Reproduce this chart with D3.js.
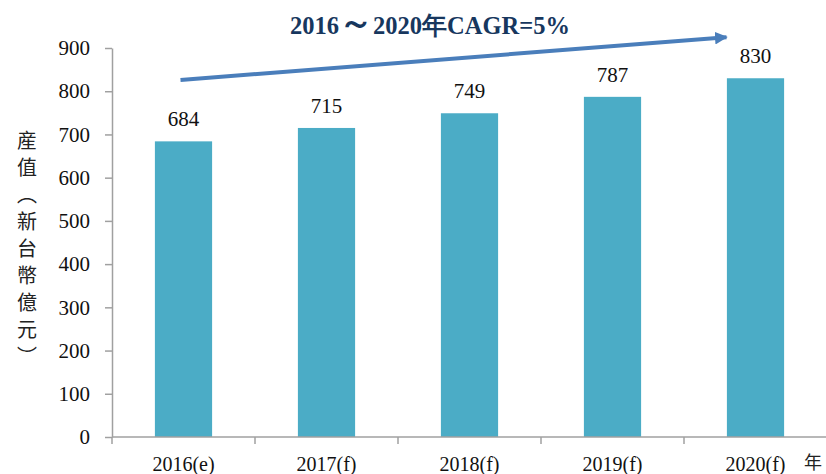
<!DOCTYPE html>
<html>
<head>
<meta charset="utf-8">
<script src="https://cdn.jsdelivr.net/npm/d3@7"></script>
<style>
  body { margin: 0; background: #fff; }
  svg { display: block; }
</style>
</head>
<body>
<div id="chart"></div>
<script>
// data
const years = ["2016(e)", "2017(f)", "2018(f)", "2019(f)", "2020(f)"];
const values = [684, 715, 749, 787, 830];
const yTicks = [0, 100, 200, 300, 400, 500, 600, 700, 800, 900];
const titleParts = ["2016", "～", "2020年CAGR=5%"];
const yTitle = "産值（新台幣億元）";
const xUnit = "年";

const W = 826, H = 474;
const margin = { top: 48, right: -1, bottom: 37, left: 112 };

const svg = d3.select("#chart")
    .append("svg")
    .attr("width", W)
    .attr("height", H);

// scales
const x = d3.scaleBand()
    .domain(years)
    .range([margin.left, W - margin.right])
    .paddingInner(0.6)
    .paddingOuter(0.3);

const y = d3.scaleLinear()
    .domain([0, 900])
    .range([H - margin.bottom, margin.top]);

const serif = "'Liberation Serif', 'Times New Roman', serif";
const axisColor = "#a0a0a0";

// bars
svg.append("g")
    .selectAll("rect")
    .data(values)
    .join("rect")
    .attr("x", (d, i) => x(years[i]))
    .attr("y", d => y(d))
    .attr("width", x.bandwidth())
    .attr("height", d => y(0) - y(d))
    .attr("fill", "#4bacc6");

// value labels
svg.append("g")
    .selectAll("text")
    .data(values)
    .join("text")
    .attr("x", (d, i) => x(years[i]) + x.bandwidth() / 2)
    .attr("y", d => y(d) - 15)
    .attr("text-anchor", "middle")
    .style("font-family", serif)
    .style("font-size", "21px")
    .style("fill", "#111")
    .text(d => d);

// Y axis
const yAxis = svg.append("g")
    .attr("transform", `translate(${margin.left},0)`)
    .call(d3.axisLeft(y).tickValues(yTicks).tickSize(7).tickPadding(15).tickSizeOuter(0));

yAxis.select(".domain").attr("stroke", axisColor).attr("stroke-width", 1.5);
yAxis.selectAll(".tick line").attr("stroke", axisColor).attr("stroke-width", 1.5);
yAxis.selectAll(".tick text")
    .style("font-family", serif)
    .style("font-size", "21px")
    .style("fill", "#111");

// X axis: ticks on band boundaries
const step = x.step();
const x0 = margin.left;
const boundaries = d3.range(years.length + 1).map(i => x0 + i * step);
const xAxis = svg.append("g")
    .attr("transform", `translate(0,${y(0)})`);
xAxis.append("line")
    .attr("x1", x0).attr("x2", W)
    .attr("stroke", axisColor).attr("stroke-width", 1.5);
xAxis.selectAll(".tk")
    .data(boundaries)
    .join("line")
    .attr("class", "tk")
    .attr("x1", d => d).attr("x2", d => d)
    .attr("y1", 0).attr("y2", 7)
    .attr("stroke", axisColor).attr("stroke-width", 1.5);
xAxis.selectAll(".lbl")
    .data(years)
    .join("text")
    .attr("class", "lbl")
    .attr("x", d => x(d) + x.bandwidth() / 2)
    .attr("y", 34)
    .attr("text-anchor", "middle")
    .style("font-family", serif)
    .style("font-size", "20px")
    .style("fill", "#111")
    .text(d => d);

// unit label "年"
svg.append("text")
    .attr("x", 813)
    .attr("y", y(0) + 32)
    .attr("text-anchor", "middle")
    .style("font-family", "'Noto Sans CJK TC', sans-serif")
    .style("font-size", "18px")
    .style("fill", "#222")
    .text(xUnit);

// vertical y title
svg.append("text")
    .attr("x", 27)
    .attr("y", 130)
    .style("writing-mode", "vertical-rl")
    .style("font-family", "'Noto Sans CJK TC', sans-serif")
    .style("font-size", "20px")
    .style("letter-spacing", "7px")
    .style("fill", "#222")
    .text(yTitle);

// CAGR arrow
const defs = svg.append("defs");
defs.append("marker")
    .attr("id", "arrowhead")
    .attr("viewBox", "0 0 10 10")
    .attr("refX", 9).attr("refY", 5)
    .attr("markerWidth", 3.2).attr("markerHeight", 3.2)
    .attr("orient", "auto")
    .append("path")
    .attr("d", "M0,0 L10,5 L0,10 Z")
    .attr("fill", "#4a7ebb");

const first = years[0], last = years[years.length - 1];
svg.append("line")
    .attr("x1", x(first) + x.bandwidth() / 2 - 3)
    .attr("y1", y(826))
    .attr("x2", x(last) + x.bandwidth() / 2 - 29)
    .attr("y2", y(925))
    .attr("stroke", "#4a7ebb")
    .attr("stroke-width", 4)
    .attr("marker-end", "url(#arrowhead)");

// title
const title = svg.append("text")
    .attr("x", 430)
    .attr("y", 34)
    .attr("text-anchor", "middle")
    .style("font-family", serif)
    .style("font-weight", "bold")
    .style("font-size", "24.5px")
    .style("fill", "#17375e");
title.selectAll("tspan")
    .data(titleParts)
    .join("tspan")
    .style("font-size", (d, i) => i === 1 ? "34px" : null)
    .text(d => d);
</script>
</body>
</html>
